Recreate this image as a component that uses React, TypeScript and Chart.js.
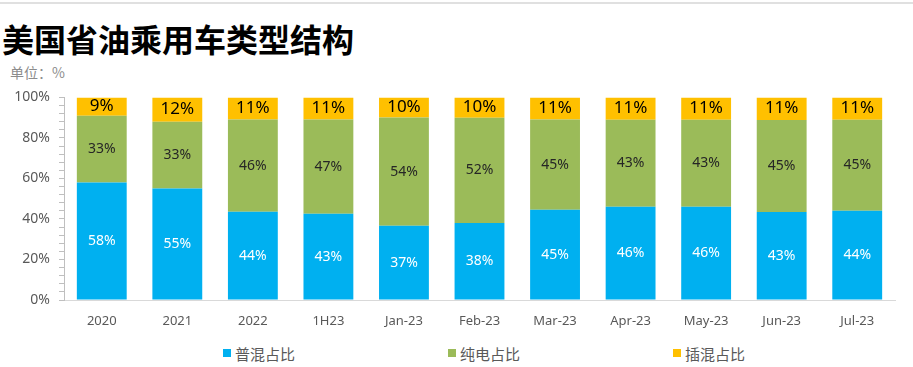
import React, { useEffect, useRef } from "react";
import { Chart, registerables } from "chart.js";

Chart.register(...registerables);

const categories = ["2020", "2021", "2022", "1H23", "Jan-23", "Feb-23", "Mar-23", "Apr-23", "May-23", "Jun-23", "Jul-23"];
const hybridShare = [58, 55, 44, 43, 37, 38, 45, 46, 46, 43, 44];
const bevShare = [33, 33, 46, 47, 54, 52, 45, 43, 43, 45, 45];
const phevShare = [9, 12, 11, 11, 10, 10, 11, 11, 11, 11, 11];
const seriesNames = ["普混占比", "纯电占比", "插混占比"];
const seriesColors = ["#00B0F0", "#9BBB59", "#FFC000"];
const labelColors = ["#FFFFFF", "#262626", "#000000"];
const labelSizes = [14, 14, 17];
const yTicks = [0, 20, 40, 60, 80, 100];

const FONT = "'Noto Sans', 'Noto Sans CJK SC', sans-serif";

const rawSeries = [hybridShare, bevShare, phevShare];
const totals = categories.map((_, i) => rawSeries.reduce((s, arr) => s + arr[i], 0));

const dataLabelPlugin = {
  id: "segLabels",
  afterDatasetsDraw(chart: any) {
    const ctx = chart.ctx;
    const area = chart.chartArea;
    chart.data.datasets.forEach((ds: any, di: number) => {
      const meta = chart.getDatasetMeta(di);
      meta.data.forEach((el: any, i: number) => {
        const top = Math.max(el.y, area.top);
        const bottom = Math.min(el.base, area.bottom);
        const cy = (top + bottom) / 2;
        ctx.save();
        ctx.font = `${labelSizes[di]}px ${FONT}`;
        ctx.fillStyle = labelColors[di];
        ctx.textAlign = "center";
        ctx.textBaseline = "middle";
        ctx.fillText(`${rawSeries[di][i]}%`, el.x, cy);
        ctx.restore();
      });
    });
  },
};

export default function App() {
  const ref = useRef<HTMLCanvasElement | null>(null);
  useEffect(() => {
    document.body.style.margin = "0";
    const canvas = ref.current!;
    const chart = new Chart(canvas, {
      type: "bar",
      data: {
        labels: categories,
        datasets: rawSeries.map((d, i) => ({
          label: seriesNames[i],
          data: d.map((v, j) => (v / totals[j]) * 100),
          backgroundColor: seriesColors[i],
          borderWidth: 0,
          barPercentage: 0.66,
          categoryPercentage: 1,
        })),
      },
      options: {
        animation: false,
        responsive: false,
        maintainAspectRatio: false,
        layout: { padding: { top: 0, right: 18, left: 0, bottom: 0 } },
        plugins: {
          legend: { display: false },
          tooltip: { enabled: false },
        },
        scales: {
          x: {
            stacked: true,
            grid: { display: false, drawTicks: false },
            border: { display: true, color: "#D9D9D9", width: 1 },
            ticks: {
              color: "#595959",
              font: { size: 13, family: FONT },
              padding: 13,
              maxRotation: 0,
              autoSkip: false,
            },
            afterFit: (s: any) => {
              s.height = 35;
            },
          },
          y: {
            stacked: true,
            min: 0,
            max: 100,
            grid: {
              drawOnChartArea: false,
              drawTicks: true,
              tickLength: 5,
              color: "#BFBFBF",
            },
            border: { display: true, color: "#BFBFBF", width: 1 },
            ticks: {
              stepSize: 4,
              autoSkip: false,
              color: "#595959",
              font: { size: 14, family: FONT },
              padding: 9,
              callback: (v: any) => (yTicks.includes(Number(v)) ? `${v}%` : ""),
            },
            afterFit: (s: any) => {
              s.width = 64;
            },
          },
        },
      },
      plugins: [dataLabelPlugin],
    });
    return () => chart.destroy();
  }, []);

  return (
    <div style={{ position: "relative", width: 913, height: 367, background: "#fff", overflow: "hidden" }}>
      <div style={{ position: "absolute", left: 0, top: 2, width: 913, height: 2, background: "#E0E0E0" }} />
      <div
        style={{
          position: "absolute",
          left: 2,
          top: 17,
          fontFamily: "'Noto Sans CJK SC', sans-serif",
          fontWeight: 700,
          fontSize: 32,
          lineHeight: "42px",
          color: "#000",
          whiteSpace: "nowrap",
        }}
      >
        美国省油乘用车类型结构
      </div>
      <div
        style={{
          position: "absolute",
          left: 10,
          top: 62,
          fontFamily: "'Noto Sans CJK SC', sans-serif",
          fontSize: 14,
          lineHeight: "20px",
          color: "#8C8C8C",
          whiteSpace: "nowrap",
        }}
      >
        单位：%
      </div>
      <canvas
        ref={ref}
        width={913}
        height={255}
        style={{ position: "absolute", left: 0, top: 80, width: 913, height: 255 }}
      />
      {seriesNames.map((n, i) => (
        <div
          key={n}
          style={{
            position: "absolute",
            left: [223, 448, 673][i],
            top: 343,
            height: 20,
            display: "flex",
            alignItems: "center",
            fontFamily: "'Noto Sans CJK SC', sans-serif",
            fontSize: 15,
            color: "#595959",
            whiteSpace: "nowrap",
          }}
        >
          <span style={{ display: "inline-block", width: 8, height: 8, background: seriesColors[i], marginRight: 4 }} />
          {n}
        </div>
      ))}
    </div>
  );
}
